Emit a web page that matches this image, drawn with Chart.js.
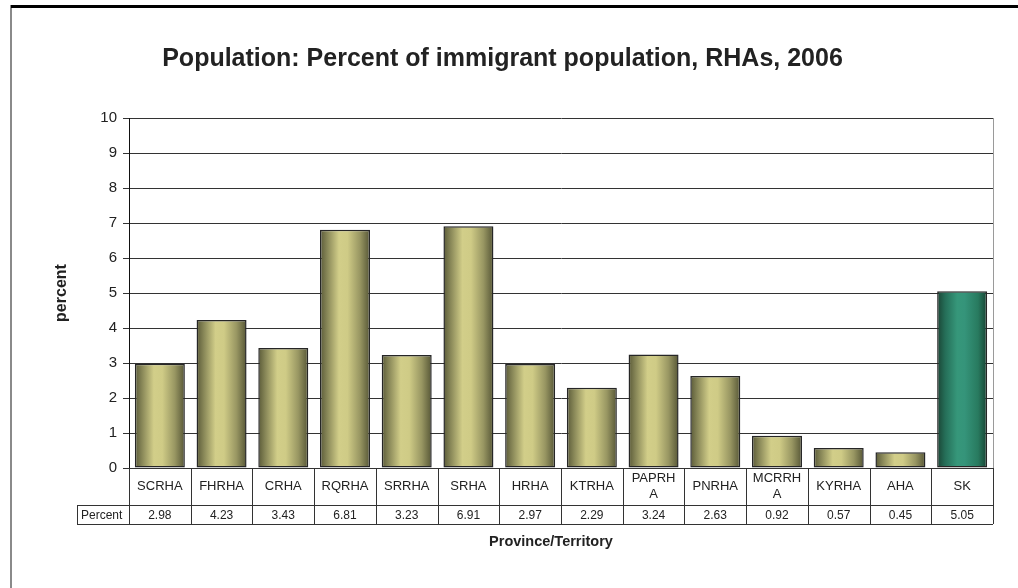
<!DOCTYPE html>
<html>
<head>
<meta charset="utf-8">
<script src="https://cdn.jsdelivr.net/npm/chart.js@4.4.1/dist/chart.umd.min.js"></script>
<style>
  html, body { margin: 0; padding: 0; background: #ffffff; }
  #wrap { width: 1018px; height: 588px; position: relative; }
</style>
</head>
<body>
<div id="wrap"><canvas id="chart" width="1018" height="588"></canvas></div>
<script>
// Regional health authorities and the province total
const categories = ['SCRHA', 'FHRHA', 'CRHA', 'RQRHA', 'SRRHA', 'SRHA', 'HRHA', 'KTRHA',
                    'PAPRHA', 'PNRHA', 'MCRRHA', 'KYRHA', 'AHA', 'SK'];
// Labels as wrapped inside the table cells
const categoryLines = [['SCRHA'], ['FHRHA'], ['CRHA'], ['RQRHA'], ['SRRHA'], ['SRHA'], ['HRHA'], ['KTRHA'],
                       ['PAPRH', 'A'], ['PNRHA'], ['MCRRH', 'A'], ['KYRHA'], ['AHA'], ['SK']];
// Percent of population who are immigrants, 2006
const percentValues = [2.98, 4.23, 3.43, 6.81, 3.23, 6.91, 2.97, 2.29, 3.24, 2.63, 0.92, 0.57, 0.45, 5.05];
const valueLabels = ['2.98', '4.23', '3.43', '6.81', '3.23', '6.91', '2.97', '2.29', '3.24', '2.63', '0.92', '0.57', '0.45', '5.05'];
const seriesName = 'Percent';
const yTicks = [0, 1, 2, 3, 4, 5, 6, 7, 8, 9, 10];

const FONT = '"Liberation Sans", Arial, sans-serif';
const BAR_PCT = 0.81;

const olive = [[0, '#5a5a38'], [0.14, '#878657'], [0.38, '#d2ce89'], [0.55, '#cfcb86'], [0.8, '#989662'], [1, '#565636']];
const green = [[0, '#1a4434'], [0.16, '#256e58'], [0.4, '#36977a'], [0.55, '#35947a'], [0.82, '#287a5f'], [1, '#184232']];

function barFill(context) {
  const chart = context.chart;
  const xs = chart.scales.x;
  const isTotal = categories[context.dataIndex] === 'SK';
  if (!xs || !chart.chartArea) return isTotal ? '#2e8a6c' : '#bdb977';
  const cx = xs.getPixelForValue(context.dataIndex);
  const w = (xs.width / categories.length) * BAR_PCT;
  const g = chart.ctx.createLinearGradient(cx - w / 2, 0, cx + w / 2, 0);
  (isTotal ? green : olive).forEach(([s, c]) => g.addColorStop(s, c));
  return g;
}

// Frame, plot border and the data table beneath the bars
const tablePlugin = {
  id: 'dataTable',
  afterDraw(chart) {
    const ctx = chart.ctx;
    const area = chart.chartArea;
    const xs = chart.scales.x;
    const n = categories.length;
    const catW = xs.width / n;
    const rowTop = area.bottom;
    const rowMid = area.bottom + 37;
    const rowBot = area.bottom + 56;
    const legendLeft = 77;

    ctx.save();
    // outer frame
    ctx.fillStyle = '#8a8a8a';
    ctx.fillRect(10, 5, 2, 583);
    ctx.fillStyle = '#000000';
    ctx.fillRect(11, 5, 1007, 3);

    // right edge of the plot area
    ctx.strokeStyle = '#9a9a9a';
    ctx.lineWidth = 1;
    ctx.beginPath();
    ctx.moveTo(Math.round(area.right) + 0.5, area.top);
    ctx.lineTo(Math.round(area.right) + 0.5, area.bottom);
    ctx.stroke();

    // table grid
    ctx.strokeStyle = '#333333';
    ctx.beginPath();
    for (let i = 0; i <= n; i++) {
      const x = Math.round(xs.left + i * catW) + 0.5;
      ctx.moveTo(x, rowTop);
      ctx.lineTo(x, rowBot);
    }
    ctx.moveTo(legendLeft + 0.5, rowMid);
    ctx.lineTo(legendLeft + 0.5, rowBot);
    ctx.moveTo(legendLeft, Math.round(rowMid) + 0.5);
    ctx.lineTo(xs.right, Math.round(rowMid) + 0.5);
    ctx.moveTo(legendLeft, Math.round(rowBot) + 0.5);
    ctx.lineTo(xs.right, Math.round(rowBot) + 0.5);
    ctx.moveTo(xs.left, Math.round(rowTop) + 0.5);
    ctx.lineTo(xs.right, Math.round(rowTop) + 0.5);
    ctx.stroke();

    // category names
    ctx.fillStyle = '#222222';
    ctx.textAlign = 'center';
    ctx.textBaseline = 'middle';
    ctx.font = '13px ' + FONT;
    categoryLines.forEach((lines, i) => {
      const cx = xs.getPixelForValue(i);
      const cy = (rowTop + rowMid) / 2;
      const lh = 16;
      lines.forEach((t, k) => {
        ctx.fillText(t, cx, cy + (k - (lines.length - 1) / 2) * lh);
      });
    });

    // values
    ctx.font = '12px ' + FONT;
    valueLabels.forEach((t, i) => {
      ctx.fillText(t, xs.getPixelForValue(i), (rowMid + rowBot) / 2 + 1);
    });
    ctx.textAlign = 'left';
    ctx.fillText(seriesName, legendLeft + 4, (rowMid + rowBot) / 2 + 1);

    // axis title under the table
    ctx.textAlign = 'center';
    ctx.font = 'bold 14.5px ' + FONT;
    ctx.fillText('Province/Territory', 551, rowBot + 18);
    ctx.restore();
  }
};

new Chart(document.getElementById('chart'), {
  type: 'bar',
  data: {
    labels: categories,
    datasets: [{
      label: seriesName,
      data: percentValues,
      backgroundColor: barFill,
      borderColor: '#262626',
      borderWidth: 1.5,
      borderSkipped: false,
      barPercentage: BAR_PCT,
      categoryPercentage: 1
    }]
  },
  options: {
    responsive: false,
    animation: false,
    devicePixelRatio: 1,
    layout: { padding: { left: 12, right: 25, top: 0, bottom: 0 } },
    plugins: {
      legend: { display: false },
      tooltip: { enabled: false },
      title: {
        display: true,
        text: 'Population: Percent of immigrant population, RHAs, 2006',
        color: '#222222',
        font: { family: FONT, size: 25, weight: 'bold', lineHeight: 1.2 },
        padding: { top: 44, bottom: 44 }
      }
    },
    scales: {
      x: {
        type: 'category',
        offset: true,
        ticks: { display: false },
        grid: { display: false },
        border: { display: false },
        afterFit(scale) { scale.height = 120; }
      },
      y: {
        min: 0,
        max: 10,
        afterBuildTicks(scale) { scale.ticks = yTicks.map(v => ({ value: v })); },
        ticks: {
          color: '#222222',
          font: { family: FONT, size: 15 },
          padding: 6
        },
        grid: {
          color: '#333333',
          lineWidth: 1,
          drawTicks: true,
          tickLength: 6
        },
        border: { display: true, color: '#111111', width: 1 },
        title: {
          display: true,
          text: 'percent',
          color: '#222222',
          font: { family: FONT, size: 16, weight: 'bold', lineHeight: 1.2 },
          padding: { top: 40, bottom: 0 }
        },
        afterFit(scale) { scale.width = 117; }
      }
    }
  },
  plugins: [tablePlugin]
});
</script>
</body>
</html>
